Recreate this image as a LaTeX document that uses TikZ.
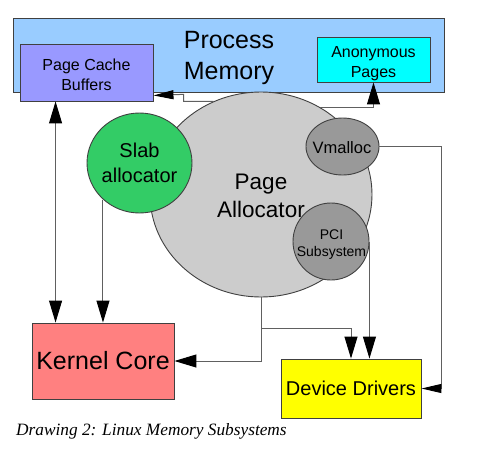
\documentclass[tikz,border=0pt]{standalone}
\usepackage{fontspec}
\setmainfont{Liberation Sans}
\newfontfamily\capfont{Liberation Serif}
\usetikzlibrary{arrows.meta,shapes.geometric}
\definecolor{pmblue}{HTML}{99CCFF}
\definecolor{pcbblue}{HTML}{9999FF}
\definecolor{anoncyan}{HTML}{00FFFF}
\definecolor{palgray}{HTML}{CCCCCC}
\definecolor{slabgreen}{HTML}{33CC66}
\definecolor{subgray}{HTML}{999999}
\definecolor{kcred}{HTML}{FF8080}
\definecolor{ddyellow}{HTML}{FFFF00}
\definecolor{edgecol}{HTML}{404040}
\definecolor{linecol}{HTML}{606060}
\tikzset{
  box/.style={rectangle, draw=edgecol, line width=0.9pt, inner sep=0pt, align=center},
  blob/.style={ellipse, draw=edgecol, line width=0.9pt, inner sep=0pt},
  lbl/.style={align=center, inner sep=0pt},
  conn/.style={draw=linecol, line width=1pt},
  arr/.style={conn, -{Triangle[length=22pt,width=13pt,color=black]}},
  arrs/.style={conn, -{Triangle[length=20pt,width=9pt,color=black]}},
  dbl/.style={conn, {Triangle[length=22pt,width=13pt,color=black]}-{Triangle[length=22pt,width=13pt,color=black]}},
}
\begin{document}
\begin{tikzpicture}[x=1pt,y=-1pt]
\useasboundingbox (0,0) rectangle (480,453);
% Process memory
\node[box, fill=pmblue, minimum width=431pt, minimum height=74pt] (pm) at (228.5,55) {};
\node[lbl, font=\fontsize{25}{31}\selectfont] (pmt) at (229,57.5) {Process\\Memory};
\node[box, fill=pcbblue, minimum width=133pt, minimum height=57pt] (pcb) at (86.5,72.5) {};
\node[lbl, font=\fontsize{16}{20}\selectfont] (pcbt) at (86.5,74.5) {Page Cache\\Buffers};
\node[box, fill=anoncyan, minimum width=113pt, minimum height=45pt] (anon) at (373.5,59.5) {};
\node[lbl, font=\fontsize{16}{20}\selectfont] (anont) at (373.5,64) {Anonymous\\Pages};
% Page allocator and sub blobs
\node[blob, fill=palgray, minimum width=222pt, minimum height=205pt] (pa) at (261,194.5) {};
\node[lbl, font=\fontsize{22.5}{28}\selectfont] (pat) at (261,196) {Page\\Allocator};
\node[blob, fill=slabgreen, minimum width=105pt, minimum height=100pt] (slab) at (139.5,163) {};
\node[lbl, font=\fontsize{20}{25}\selectfont] (slabt) at (139.5,163) {Slab\\allocator};
\node[blob, fill=subgray, minimum width=73pt, minimum height=57pt] (vm) at (342.5,146.5) {};
\node[lbl, font=\fontsize{16.5}{20}\selectfont] (vmt) at (342,147.5) {Vmalloc};
\node[blob, fill=subgray, minimum width=76pt, minimum height=77pt] (pci) at (331,241.5) {};
\node[lbl, font=\fontsize{14}{17}\selectfont] (pcit) at (331.5,245) {PCI\\Subsystem};
% Bottom boxes
\node[box, fill=kcred, minimum width=142pt, minimum height=76pt, font=\fontsize{25}{30}\selectfont] (kc) at (103,361) {Kernel Core};
\node[box, fill=ddyellow, minimum width=140pt, minimum height=59pt, font=\fontsize{20}{24}\selectfont] (dd) at (351,388.5) {Device Drivers};
% Connectors
\draw[dbl] ([xshift=36pt]pcb.south west) -- ([xshift=24pt]kc.north west);
\draw[arr] (slab.-135) -- (slab.-135 |- kc.north);
\draw[arr] (pa.south) |- (kc.east);
\draw[arr] (pa.south) ++(0,31) -| (dd.north);
\draw[arr] (pci.east) -- (pci.east |- dd.north);
\draw[arrs] (vm.east) -- ++(62.5,0) |- (dd.east);
\draw[arrs] (pa.117.4) -- ++(-30,0) -- ++(0,-7) -- ([yshift=6pt]pcb.south east);
\draw[arr] (pa.56.6) -| (anon.south);
% Caption
\node[anchor=base west, inner sep=0pt, font=\capfont\itshape\fontsize{17.3}{20}\selectfont] (cap) at (16,435) {Drawing 2: Linux Memory Subsystems};
\end{tikzpicture}
\end{document}
